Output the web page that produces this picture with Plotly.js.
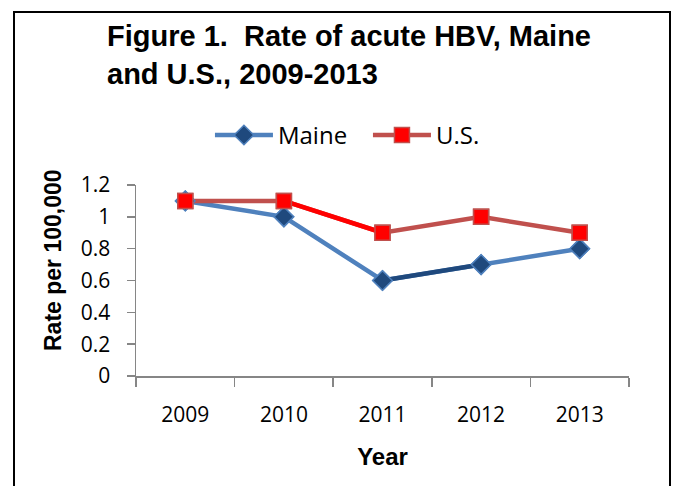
<!DOCTYPE html>
<html>
<head>
<meta charset="utf-8">
<script src="https://cdn.plot.ly/plotly-3.0.1.min.js"></script>
<style>
  html, body { margin: 0; padding: 0; background: #fff; overflow: hidden; }
  #frame { position: absolute; left: 13px; top: 11px; width: 658px; height: 500px; border: 2px solid #000; box-sizing: border-box; }
  #chart { position: absolute; left: 0; top: 0; width: 673px; height: 486px; }
</style>
</head>
<body>
<div id="frame"></div>
<div id="chart"></div>
<script>
const years = ["2009", "2010", "2011", "2012", "2013"];
const maine = [1.1, 1.0, 0.6, 0.7, 0.8];
const us = [1.1, 1.1, 0.9, 1.0, 0.9];
const yTicks = [0, 0.2, 0.4, 0.6, 0.8, 1, 1.2];
const yTickText = ["0", "0.2", "0.4", "0.6", "0.8", "1", "1.2"];

const tickFont = { family: "Open Sans, Liberation Sans, sans-serif", size: 21, color: "#000" };
const boldFont = "Liberation Sans, Arial, sans-serif";

function segment(xs, ys, i, color) {
  return {
    x: xs.slice(i, i + 2), y: ys.slice(i, i + 2), type: "scatter", mode: "lines",
    line: { color: color, width: 4.5 }, showlegend: false, hoverinfo: "skip"
  };
}
const maineMarker = { symbol: "diamond", size: 15, color: "#1F497D", line: { color: "#4F81BD", width: 1.5 } };
const usMarker = { symbol: "square", size: 15, color: "#FF0000", line: { color: "#C0504D", width: 1.5 } };

const traces = [
  { x: years, y: maine, name: "Maine", type: "scatter", mode: "lines+markers",
    line: { color: "#4F81BD", width: 4.5 }, marker: maineMarker },
  { x: years, y: us, name: "U.S.", type: "scatter", mode: "lines+markers",
    line: { color: "#C0504D", width: 4.5 }, marker: usMarker },
  segment(years, maine, 2, "#1F497D"),
  segment(years, us, 1, "#FF0000"),
  { x: years, y: maine, type: "scatter", mode: "markers", showlegend: false, hoverinfo: "skip", marker: maineMarker },
  { x: years, y: us, type: "scatter", mode: "markers", showlegend: false, hoverinfo: "skip", marker: usMarker }
];

const layout = {
  width: 673, height: 486,
  margin: { l: 136, r: 44, t: 185, b: 110 },
  paper_bgcolor: "rgba(0,0,0,0)", plot_bgcolor: "rgba(0,0,0,0)",
  title: {
    text: "Figure 1.  Rate of acute HBV, Maine<br>and U.S., 2009-2013",
    font: { family: boldFont, size: 29, color: "#000", weight: "bold" },
    x: 107 / 673, xanchor: "left", xref: "container",
    y: 1 - 46 / 486, yanchor: "top", yref: "container"
  },
  showlegend: true,
  legend: {
    orientation: "h", x: 0.15, xanchor: "left", y: 1.26, yanchor: "middle",
    font: { family: "Open Sans, Liberation Sans, sans-serif", size: 24, color: "#000" },
    traceorder: "normal", itemwidth: 58, entrywidth: 85, entrywidthmode: "pixels"
  },
  annotations: [{
    text: "Rate per 100,000", textangle: -90, showarrow: false,
    xref: "paper", yref: "paper", x: (53 - 136) / 493, y: (376 - 260) / 191,
    xanchor: "center", yanchor: "middle",
    font: { family: boldFont, size: 23, weight: "bold", color: "#000" }
  }],
  xaxis: {
    type: "category", range: [-0.5, 4.5], tickson: "boundaries",
    showline: true, linecolor: "#868686", linewidth: 1.5,
    ticks: "outside", ticklen: 9, tickcolor: "#868686", tickwidth: 1.5,
    showgrid: false, zeroline: false, tickfont: tickFont, ticklabelstandoff: 19,
    title: { text: "Year", font: { family: boldFont, size: 24, weight: "bold", color: "#000" }, standoff: 21 }
  },
  yaxis: {
    range: [0, 1.2], tickvals: yTicks, ticktext: yTickText,
    showline: true, linecolor: "#868686", linewidth: 1.5,
    ticks: "outside", ticklen: 8, tickcolor: "#868686", tickwidth: 1.5,
    showgrid: false, zeroline: false, tickfont: tickFont, ticklabelstandoff: 12
  }
};

Plotly.newPlot("chart", traces, layout, { displayModeBar: false, staticPlot: true });
</script>
</body>
</html>
